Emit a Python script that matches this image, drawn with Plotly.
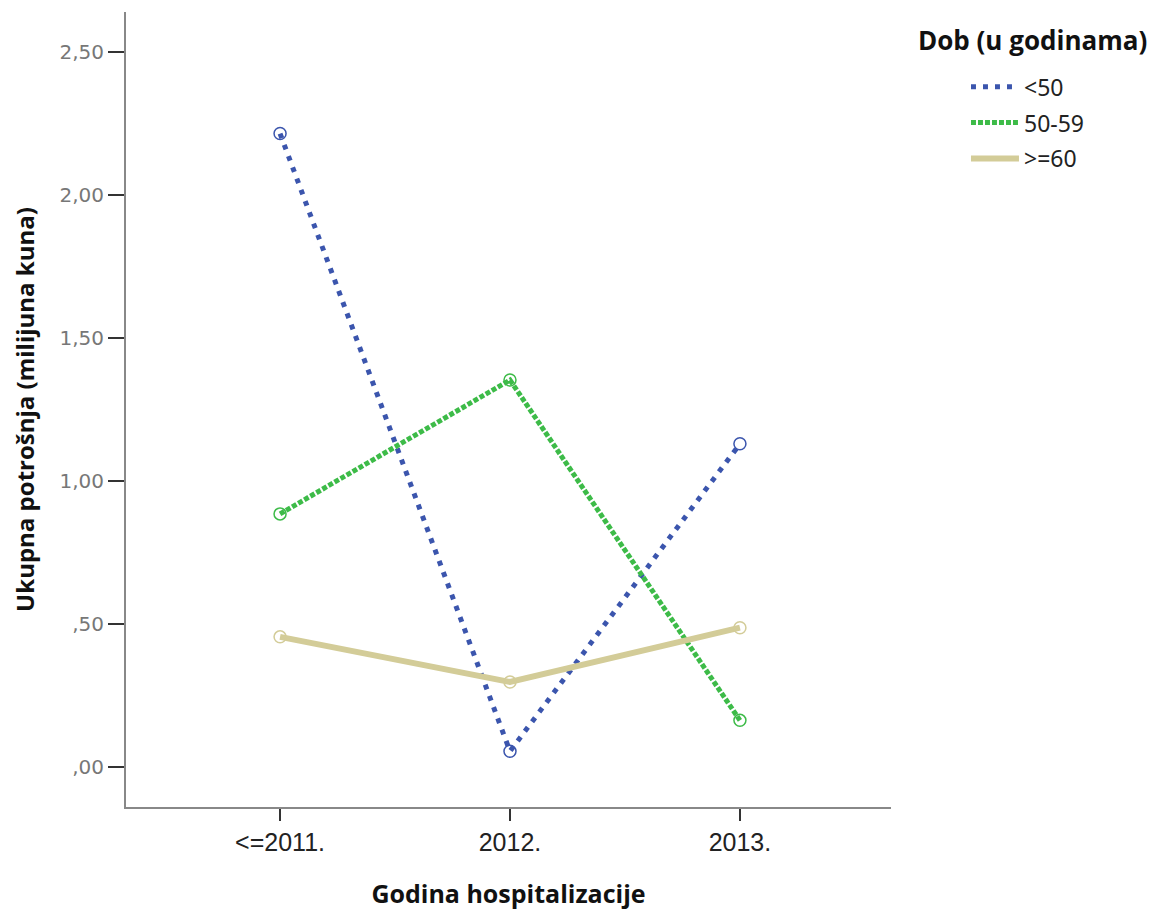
import plotly.graph_objects as go

categories = ["<=2011.", "2012.", "2013."]
series_names = ["<50", "50-59", ">=60"]
vals_lt50 = [2.215, 0.055, 1.13]
vals_50_59 = [0.885, 1.353, 0.163]
vals_ge60 = [0.455, 0.297, 0.487]
y_tickvals = [0.0, 0.5, 1.0, 1.5, 2.0, 2.5]
y_ticktext = [",00", ",50", "1,00", "1,50", "2,00", "2,50"]

colors = ["#3b55ad", "#3dbb48", "#d3cc98"]
dashes = ["5px,7px", "5px,2px", "solid"]
widths = [5, 5, 6]
all_vals = [vals_lt50, vals_50_59, vals_ge60]

fig = go.Figure()
for i, (name, vals, c, d, w) in enumerate(zip(series_names, all_vals, colors, dashes, widths)):
    fig.add_trace(go.Scatter(
        x=[0, 1, 2], y=vals, name=name, mode="lines", legendgroup=f"g{i}",
        line=dict(color=c, dash=d, width=w),
    ))
for i, (name, vals, c) in enumerate(zip(series_names, all_vals, colors)):
    fig.add_trace(go.Scatter(
        x=[0, 1, 2], y=vals, name=name, mode="markers", showlegend=False, legendgroup=f"g{i}",
        marker=dict(symbol="circle-open", size=12, color=c, line=dict(width=1.5, color=c)),
    ))

fig.add_annotation(
    text="<b>Dob (u godinama)</b>", xref="paper", yref="paper",
    x=1.033, y=0.965, xanchor="left", yanchor="middle", showarrow=False,
    font=dict(family="Open Sans", size=26, color="#111"),
)

fig.update_layout(
    width=1163, height=911,
    margin=dict(l=118, r=280, t=4, b=112, autoexpand=False),
    paper_bgcolor="white", plot_bgcolor="white",
    showlegend=True,
    legend=dict(
        x=1.098, y=0.933, xanchor="left", yanchor="top",
        font=dict(family="Noto Sans", size=23, color="#222"),
        itemwidth=48, tracegroupgap=3,
    ),
    xaxis=dict(
        range=[-0.67, 2.657], tickvals=[0, 1, 2], ticktext=categories, automargin=False,
        showgrid=False, zeroline=False, showline=True, linecolor="#888", linewidth=2,
        ticks="outside", ticklen=12, tickcolor="#333", tickwidth=2,
        tickfont=dict(family="Liberation Sans", size=25, color="#222"),
        title=dict(text="<b>Godina hospitalizacije</b>", font=dict(family="Open Sans", size=25, color="#111"), standoff=30),
    ),
    yaxis=dict(
        range=[-0.14, 2.64], tickvals=y_tickvals, ticktext=y_ticktext, automargin=False,
        showgrid=False, zeroline=False, showline=True, linecolor="#888", linewidth=2,
        ticks="outside", ticklen=16, tickcolor="#333", tickwidth=2,
        tickfont=dict(family="DejaVu Sans", size=20, color="#777"),
        title=dict(text="<b>Ukupna potrošnja (milijuna kuna)</b>", font=dict(family="Open Sans", size=24, color="#111"), standoff=31),
    ),
)

fig.write_html("out.html")
